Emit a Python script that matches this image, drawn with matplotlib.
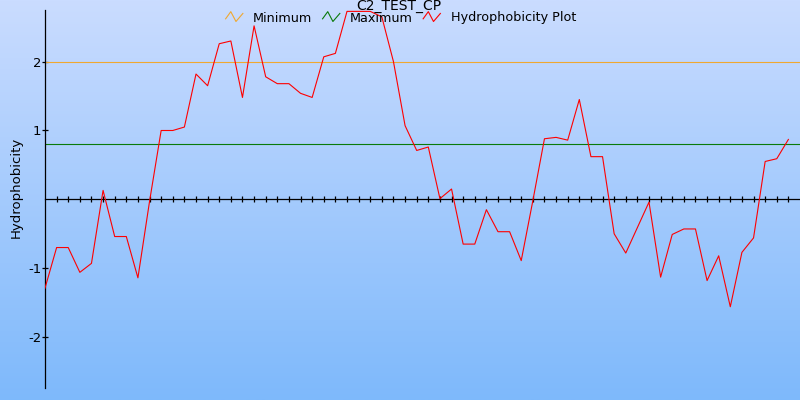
import numpy as np
import matplotlib
matplotlib.use("Agg")
import matplotlib.pyplot as plt
from matplotlib.lines import Line2D
from matplotlib.legend_handler import HandlerBase

# Hydrophobicity profile values
hydro = [-1.29, -0.70, -0.70, -1.06, -0.93, 0.13, -0.54, -0.54, -1.14, -0.03,
         1.00, 1.00, 1.05, 1.82, 1.65, 2.26, 2.30, 1.48, 2.52, 1.78,
         1.68, 1.68, 1.54, 1.48, 2.07, 2.12, 2.73, 2.73, 2.73, 2.65,
         2.00, 1.07, 0.71, 0.76, 0.01, 0.15, -0.65, -0.65, -0.15, -0.47,
         -0.47, -0.89, -0.02, 0.88, 0.90, 0.86, 1.45, 0.62, 0.62, -0.50,
         -0.78, -0.41, -0.04, -1.13, -0.51, -0.43, -0.43, -1.18, -0.82, -1.56,
         -0.77, -0.56, 0.55, 0.59, 0.87]
min_level = 2.0
max_level = 0.81
series_names = ["Minimum", "Maximum", "Hydrophobicity Plot"]
series_colors = ["#f0a830", "#0a7a0a", "#ff0000"]
y_ticks = [-2, -1, 1, 2]
title = "C2_TEST_CP"
y_label = "Hydrophobicity"


class ZigzagHandler(HandlerBase):
    """Small zigzag legend icon like the original chart."""
    def create_artists(self, legend, orig_handle, xdescent, ydescent,
                       width, height, fontsize, trans):
        xs = np.array([0.0, 0.3, 0.6, 1.0]) * width - xdescent
        ys = np.array([0.3, 1.1, 0.0, 0.9]) * height - ydescent
        line = Line2D(xs, ys, color=orig_handle.get_color(), lw=0.8)
        line.set_transform(trans)
        return [line]


fig = plt.figure(figsize=(8, 4), dpi=100)

# background gradient
bg = fig.add_axes([0, 0, 1, 1], zorder=-1)
top = np.array([202, 220, 255]) / 255
bottom = np.array([126, 185, 251]) / 255
t = np.linspace(0, 1, 256)[:, None]
grad = top[None, :] * (1 - t) + bottom[None, :] * t
bg.imshow(grad[:, None, :], aspect="auto", extent=[0, 1, 0, 1])
bg.axis("off")

ax = fig.add_axes([45 / 800, 12 / 400, 755 / 800, 378 / 400])
ax.patch.set_alpha(0)

positions = np.arange(len(hydro))
ax.axhline(min_level, color=series_colors[0], lw=0.8)
ax.axhline(max_level, color=series_colors[1], lw=0.8)
ax.plot(positions, hydro, color=series_colors[2], lw=0.8, zorder=3)

ax.set_xlim(0, len(hydro))
ax.set_ylim(-2.74, 2.75)

for side in ["top", "right"]:
    ax.spines[side].set_visible(False)
ax.spines["bottom"].set_position(("data", 0))
ax.spines["bottom"].set_linewidth(0.9)
ax.spines["left"].set_linewidth(0.9)

ax.set_xticks(positions[1:])
ax.tick_params(axis="x", direction="inout", length=4, width=0.9, labelbottom=False)
ax.set_yticks(y_ticks)
ax.set_yticklabels([str(v) for v in y_ticks])
ax.tick_params(axis="y", direction="inout", length=4, width=0.9, pad=0.5, labelsize=9.5)

ax.set_ylabel(y_label, fontsize=9.5)
ax.yaxis.set_label_coords(-0.030, 0.53)

handles = [Line2D([], [], color=c) for c in series_colors]
fig.legend(handles, series_names, loc="center", bbox_to_anchor=(0.501, 1 - 18 / 400),
           ncol=3, frameon=False, fontsize=9.2, handlelength=1.35, handletextpad=0.8,
           columnspacing=0.8, borderpad=0, handler_map={Line2D: ZigzagHandler()})

fig.text(0.499, 1 - 9.5 / 400, title, ha="center", va="baseline", fontsize=10)

fig.savefig("out.png", dpi=100)
